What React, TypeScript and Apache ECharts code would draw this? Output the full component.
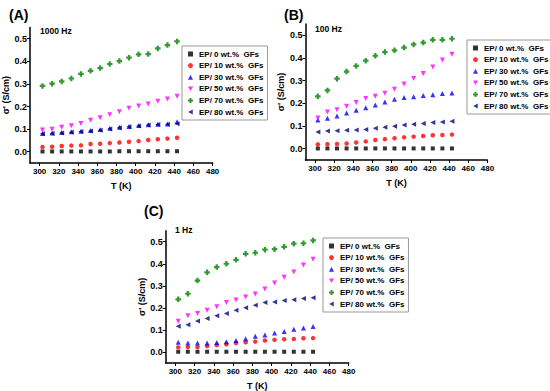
import React, { useEffect, useRef } from "react";
import * as echarts from "echarts";

const temps = [303, 313, 323, 333, 343, 353, 363, 373, 383, 393, 403, 413, 423, 433, 443];
const xTicks = [300, 320, 340, 360, 380, 400, 420, 440, 460, 480];
const yTicks = [0, 0.1, 0.2, 0.3, 0.4, 0.5];
const seriesNames = [
  "EP/ 0 wt.%  GFs",
  "EP/ 10 wt.%  GFs",
  "EP/ 30 wt.%  GFs",
  "EP/ 50 wt.%  GFs",
  "EP/ 70 wt.%  GFs",
  "EP/ 80 wt.%  GFs",
];
const panelLabels = ["(A)", "(B)", "(C)"];
const freqLabels = ["1000 Hz", "100 Hz", "1 Hz"];

// Panel A (1000 Hz)
const a0 = [0.001, 0.001, 0.001, 0.001, 0.001, 0.001, 0.001, 0.001, 0.002, 0.002, 0.002, 0.002, 0.002, 0.002, 0.002];
const a10 = [0.021, 0.022, 0.025, 0.027, 0.028, 0.034, 0.035, 0.038, 0.041, 0.044, 0.047, 0.052, 0.055, 0.058, 0.062];
const a30 = [0.081, 0.083, 0.085, 0.088, 0.091, 0.094, 0.098, 0.104, 0.108, 0.112, 0.116, 0.119, 0.121, 0.123, 0.133];
const a50 = [0.096, 0.099, 0.108, 0.115, 0.125, 0.139, 0.15, 0.164, 0.177, 0.192, 0.202, 0.211, 0.223, 0.233, 0.245];
const a70 = [0.291, 0.301, 0.311, 0.324, 0.344, 0.358, 0.37, 0.388, 0.401, 0.416, 0.431, 0.432, 0.457, 0.472, 0.488];
const a80 = [0.079, 0.081, 0.083, 0.086, 0.089, 0.092, 0.095, 0.1, 0.106, 0.11, 0.114, 0.118, 0.12, 0.121, 0.124];

// Panel B (100 Hz)
const b0 = [0.001, 0.001, 0.001, 0.001, 0.001, 0.001, 0.001, 0.001, 0.001, 0.001, 0.001, 0.001, 0.001, 0.001, 0.001];
const b10 = [0.019, 0.02, 0.021, 0.023, 0.027, 0.032, 0.038, 0.042, 0.046, 0.05, 0.053, 0.056, 0.059, 0.06, 0.062];
const b30 = [0.126, 0.134, 0.144, 0.157, 0.169, 0.181, 0.193, 0.206, 0.218, 0.226, 0.229, 0.235, 0.238, 0.243, 0.246];
const b50 = [0.135, 0.162, 0.172, 0.187, 0.204, 0.221, 0.231, 0.244, 0.262, 0.285, 0.31, 0.332, 0.36, 0.391, 0.417];
const b70 = [0.231, 0.257, 0.309, 0.34, 0.365, 0.388, 0.41, 0.426, 0.434, 0.446, 0.46, 0.468, 0.48, 0.48, 0.485];
const b80 = [0.074, 0.078, 0.079, 0.081, 0.082, 0.085, 0.09, 0.094, 0.099, 0.104, 0.108, 0.111, 0.115, 0.118, 0.121];

// Panel C (1 Hz)
const c0 = [0.001, 0.001, 0.001, 0.001, 0.001, 0.001, 0.001, 0.001, 0.001, 0.001, 0.001, 0.001, 0.001, 0.001, 0.001];
const c10 = [0.021, 0.022, 0.022, 0.027, 0.031, 0.035, 0.041, 0.044, 0.047, 0.052, 0.055, 0.058, 0.059, 0.062, 0.063];
const c30 = [0.044, 0.041, 0.041, 0.041, 0.043, 0.046, 0.052, 0.06, 0.071, 0.077, 0.086, 0.093, 0.103, 0.109, 0.115];
const c50 = [0.139, 0.164, 0.174, 0.189, 0.205, 0.224, 0.236, 0.249, 0.263, 0.286, 0.313, 0.339, 0.363, 0.394, 0.42];
const c70 = [0.239, 0.264, 0.324, 0.361, 0.385, 0.4, 0.418, 0.445, 0.45, 0.464, 0.466, 0.477, 0.491, 0.493, 0.506];
const c80 = [0.117, 0.124, 0.14, 0.152, 0.164, 0.174, 0.189, 0.201, 0.212, 0.224, 0.227, 0.233, 0.237, 0.242, 0.246];

const panelData = [
  [a0, a10, a30, a50, a70, a80],
  [b0, b10, b30, b50, b70, b80],
  [c0, c10, c30, c50, c70, c80],
];

const FONT = "Liberation Sans, Arial, Helvetica, sans-serif";

const symbols = [
  { symbol: "rect", size: 4, color: "#000000" },
  { symbol: "circle", size: 4.5, color: "#ff0000" },
  { symbol: "triangle", size: 5, color: "#0000ff" },
  { symbol: "path://M0,0L10,0L5,9Z", size: 5, color: "#ff00ff" },
  { symbol: "path://M3,0H7V3H10V7H7V10H3V7H0V3H3Z", size: 5.5, color: "#008000" },
  { symbol: "path://M10,0L10,10L1,5Z", size: 5, color: "#000080" },
];

// layout (px)
const grids = [
  { left: 30, top: 27.4, width: 182.6, height: 135.6 },
  { left: 305.4, top: 24, width: 182, height: 136 },
  { left: 165.7, top: 230.7, width: 183, height: 135.6 },
];
const legendPos = [
  { left: 182, top: 46 },
  { left: 467, top: 40 },
  { left: 323, top: 238 },
];
const panelLabelPos = [
  { x: 9, y: 8 },
  { x: 284, y: 8 },
  { x: 144, y: 204 },
];
const freqPos = [
  { x: 40, y: 26 },
  { x: 315, y: 24 },
  { x: 175, y: 225 },
];

export default function App() {
  const ref = useRef<HTMLDivElement>(null);
  useEffect(() => {
    if (!ref.current) return;
    const chart = echarts.init(ref.current, undefined, { renderer: "svg" });

    const xAxes = grids.map((_, i) => ({
      type: "value",
      gridIndex: i,
      min: 290,
      max: 480,
      name: "T (K)",
      nameLocation: "middle",
      nameGap: 18,
      nameTextStyle: { fontSize: 9, fontWeight: "bold", color: "#000", fontFamily: FONT },
      axisLine: { show: true, onZero: false, lineStyle: { color: "#000", width: 1.5 } },
      axisTick: { show: true, inside: false, length: 3, customValues: xTicks, lineStyle: { color: "#000", width: 1 } },
      axisLabel: {
        customValues: xTicks,
        fontSize: 8,
        fontWeight: "bold",
        color: "#000",
        fontFamily: FONT,
        margin: 4,
      },
      splitLine: { show: false },
    }));
    const yAxes = grids.map((_, i) => ({
      type: "value",
      gridIndex: i,
      min: -0.05,
      max: 0.55,
      name: "σ' (S/cm)",
      nameLocation: "middle",
      nameGap: 19,
      nameTextStyle: { fontSize: 9, fontWeight: "bold", color: "#000", fontFamily: FONT },
      axisLine: { show: true, onZero: false, lineStyle: { color: "#000", width: 1.5 } },
      axisTick: { show: true, inside: false, length: 3, customValues: yTicks, lineStyle: { color: "#000", width: 1 } },
      axisLabel: {
        customValues: yTicks,
        formatter: (v: number) => v.toFixed(1),
        fontSize: 9,
        fontWeight: "bold",
        color: "#000",
        fontFamily: FONT,
        margin: 3,
      },
      splitLine: { show: false },
    }));

    const series: any[] = [];
    panelData.forEach((sets, p) => {
      sets.forEach((vals, s) => {
        series.push({
          type: "scatter",
          name: seriesNames[s],
          xAxisIndex: p,
          yAxisIndex: p,
          symbol: symbols[s].symbol,
          symbolSize: symbols[s].size,
          itemStyle: { color: symbols[s].color },
          data: temps.map((t, k) => [t, vals[k]]),
          z: 2 + s,
        });
      });
    });

    const legends = legendPos.map((pos) => ({
      orient: "vertical",
      left: pos.left,
      top: pos.top,
      data: seriesNames,
      itemWidth: 5,
      itemHeight: 5,
      itemGap: 3.6,
      padding: [4, 4, 4, 6],
      borderColor: "#999",
      borderWidth: 1,
      selectedMode: false,
      textStyle: { fontSize: 8, fontWeight: "bold", color: "#000", fontFamily: FONT, padding: [0, 0, 0, 1] },
    }));

    const graphics: any[] = [];
    panelLabels.forEach((t, i) => {
      graphics.push({
        type: "text",
        left: panelLabelPos[i].x,
        top: panelLabelPos[i].y,
        style: { text: t, fontSize: 14, fontWeight: "bold", fill: "#000", fontFamily: FONT },
      });
      graphics.push({
        type: "text",
        left: freqPos[i].x,
        top: freqPos[i].y,
        style: { text: freqLabels[i], fontSize: 8.5, fontWeight: "bold", fill: "#000", fontFamily: FONT },
      });
    });

    chart.setOption({
      animation: false,
      backgroundColor: "#ffffff",
      grid: grids.map((g) => ({ ...g, containLabel: false })),
      xAxis: xAxes,
      yAxis: yAxes,
      legend: legends,
      series,
      graphic: graphics,
    });
    return () => chart.dispose();
  }, []);
  return (
    <div
      ref={ref}
      style={{ position: "fixed", left: 0, top: 0, width: 550, height: 391, background: "#fff" }}
    />
  );
}
